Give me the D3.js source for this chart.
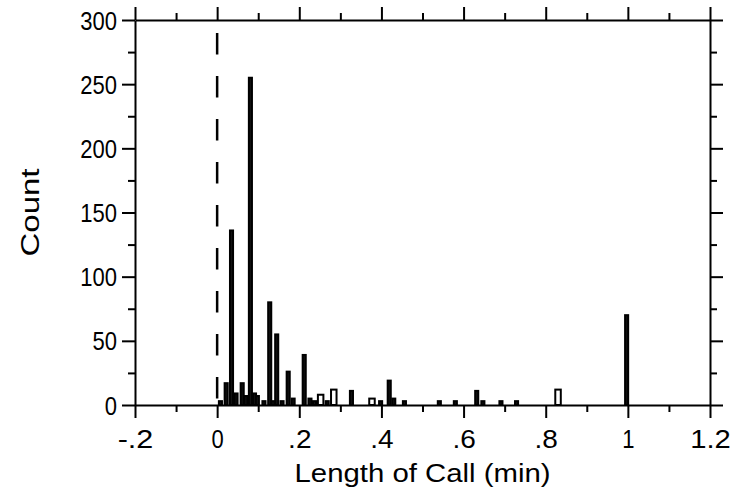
<!DOCTYPE html>
<html>
<head>
<meta charset="utf-8">
<script src="https://cdn.jsdelivr.net/npm/d3@7"></script>
<style>
  body { margin: 0; background: #fff; }
  svg text { font-family: "Liberation Sans", Arial, sans-serif; fill: #000; }
  .axis path, .axis line { stroke: #000; stroke-width: 2; }
</style>
</head>
<body>
<div id="chart"></div>
<script>
const width = 735
const height = 499
const margin = { top: 20, right: 25, bottom: 94, left: 135 }

// Call lengths (min) at bar centres and their counts
const barCenters = [0.008, 0.022, 0.035, 0.046, 0.061, 0.070, 0.081, 0.091, 0.098, 0.114,
  0.128, 0.136, 0.145, 0.158, 0.173, 0.185, 0.212, 0.226, 0.237, 0.268,
  0.327, 0.398, 0.419, 0.430, 0.456, 0.541, 0.580, 0.632, 0.647, 0.691,
  0.729, 0.997]
const barCounts = [3, 17, 136, 9, 17, 7, 255, 9, 7, 3,
  80, 3, 55, 3, 26, 5, 39, 5, 3, 3,
  11, 3, 19, 5, 3, 3, 3, 11, 3, 3,
  3, 70]
// wider, open bars
const openCenters = [0.252, 0.284, 0.377, 0.830]
const openCounts = [8, 12, 5, 12]

const xTicks = [-0.2, 0, 0.2, 0.4, 0.6, 0.8, 1, 1.2]
const xTickLabels = ['-.2', '0', '.2', '.4', '.6', '.8', '1', '1.2']
const xMinor = [-0.1, 0.1, 0.3, 0.5, 0.7, 0.9, 1.1]
const yTicks = [0, 50, 100, 150, 200, 250, 300]
const yMinor = [25, 75, 125, 175, 225, 275]

const w = width - margin.left - margin.right
const h = height - margin.top - margin.bottom
const fontSize = 25

const svg = d3.select('#chart').append('svg')
  .attr('width', width)
  .attr('height', height)

const g = svg.append('g').attr('transform', `translate(${margin.left},${margin.top})`)

const x = d3.scaleLinear().domain([-0.2, 1.2]).range([0, w])
const y = d3.scaleLinear().domain([0, 300]).range([h, 0])

// bars: narrow ones read as solid, wide ones as open outlines
const narrow = 0.0075
const wide = 0.0134
const bars = barCenters.map((c, i) => ({ c, n: barCounts[i], bw: narrow, fill: '#111' }))
  .concat(openCenters.map((c, i) => ({ c, n: openCounts[i], bw: wide, fill: '#fff' })))

g.selectAll('.bar')
  .data(bars)
  .join('rect')
  .attr('class', 'bar')
  .attr('x', d => x(d.c - d.bw / 2))
  .attr('width', d => x(d.bw) - x(0))
  .attr('y', d => y(d.n))
  .attr('height', d => y(0) - y(d.n))
  .attr('fill', d => d.fill)
  .attr('stroke', '#000')
  .attr('stroke-width', 2)

// dashed reference line at zero
g.append('line')
  .attr('x1', x(0)).attr('x2', x(0))
  .attr('y1', 0).attr('y2', h)
  .attr('stroke', '#000')
  .attr('stroke-width', 2.5)
  .attr('stroke-dasharray', '21.5,21.5')
  .attr('stroke-dashoffset', 30)

const fmt = d => xTickLabels[xTicks.indexOf(d)]

function frame(axisFn, scale, major, minor, transform, labels) {
  const a = g.append('g').attr('class', 'axis').attr('transform', transform)
  a.call(axisFn(scale).tickValues(major).tickSize(13).tickSizeOuter(0)
    .tickFormat(labels ? labels : ''))
  const m = g.append('g').attr('class', 'axis').attr('transform', transform)
  m.call(axisFn(scale).tickValues(minor).tickSize(7).tickSizeOuter(0).tickFormat(''))
  m.select('.domain').remove()
  return a
}

const bottom = frame(d3.axisBottom, x, xTicks, xMinor, `translate(0,${h})`, fmt)
frame(d3.axisTop, x, xTicks, xMinor, 'translate(0,0)', null)
const left = frame(d3.axisLeft, y, yTicks, yMinor, 'translate(0,0)', d => d)
frame(d3.axisRight, y, yTicks, yMinor, `translate(${w},0)`, null)

// slightly narrow glyphs with loose spacing, like the original
function squeeze(sel, spacing) {
  sel.each(function () {
    const t = d3.select(this)
    const n = t.text().length
    const len = this.getComputedTextLength()
    t.attr('textLength', len * 0.88 + spacing * (n - 1))
      .attr('lengthAdjust', 'spacingAndGlyphs')
  })
}

g.selectAll('.axis text').style('font-family', '"Liberation Sans", Arial, sans-serif')
bottom.selectAll('text')
  .attr('font-size', fontSize).attr('y', 43).attr('dy', 0)
  .call(squeeze, 5)
left.selectAll('text')
  .attr('font-size', fontSize).attr('x', -18).attr('dy', '0.36em')
  .call(squeeze, 0)

svg.append('text')
  .attr('x', margin.left + w / 2)
  .attr('y', 482)
  .attr('text-anchor', 'middle')
  .attr('font-size', fontSize)
  .attr('textLength', 256)
  .attr('lengthAdjust', 'spacingAndGlyphs')
  .text('Length of Call (min)')

svg.append('text')
  .attr('transform', `translate(39,${margin.top + h / 2}) rotate(-90)`)
  .attr('text-anchor', 'middle')
  .attr('font-size', fontSize)
  .attr('textLength', 88)
  .attr('lengthAdjust', 'spacingAndGlyphs')
  .text('Count')
</script>
</body>
</html>
